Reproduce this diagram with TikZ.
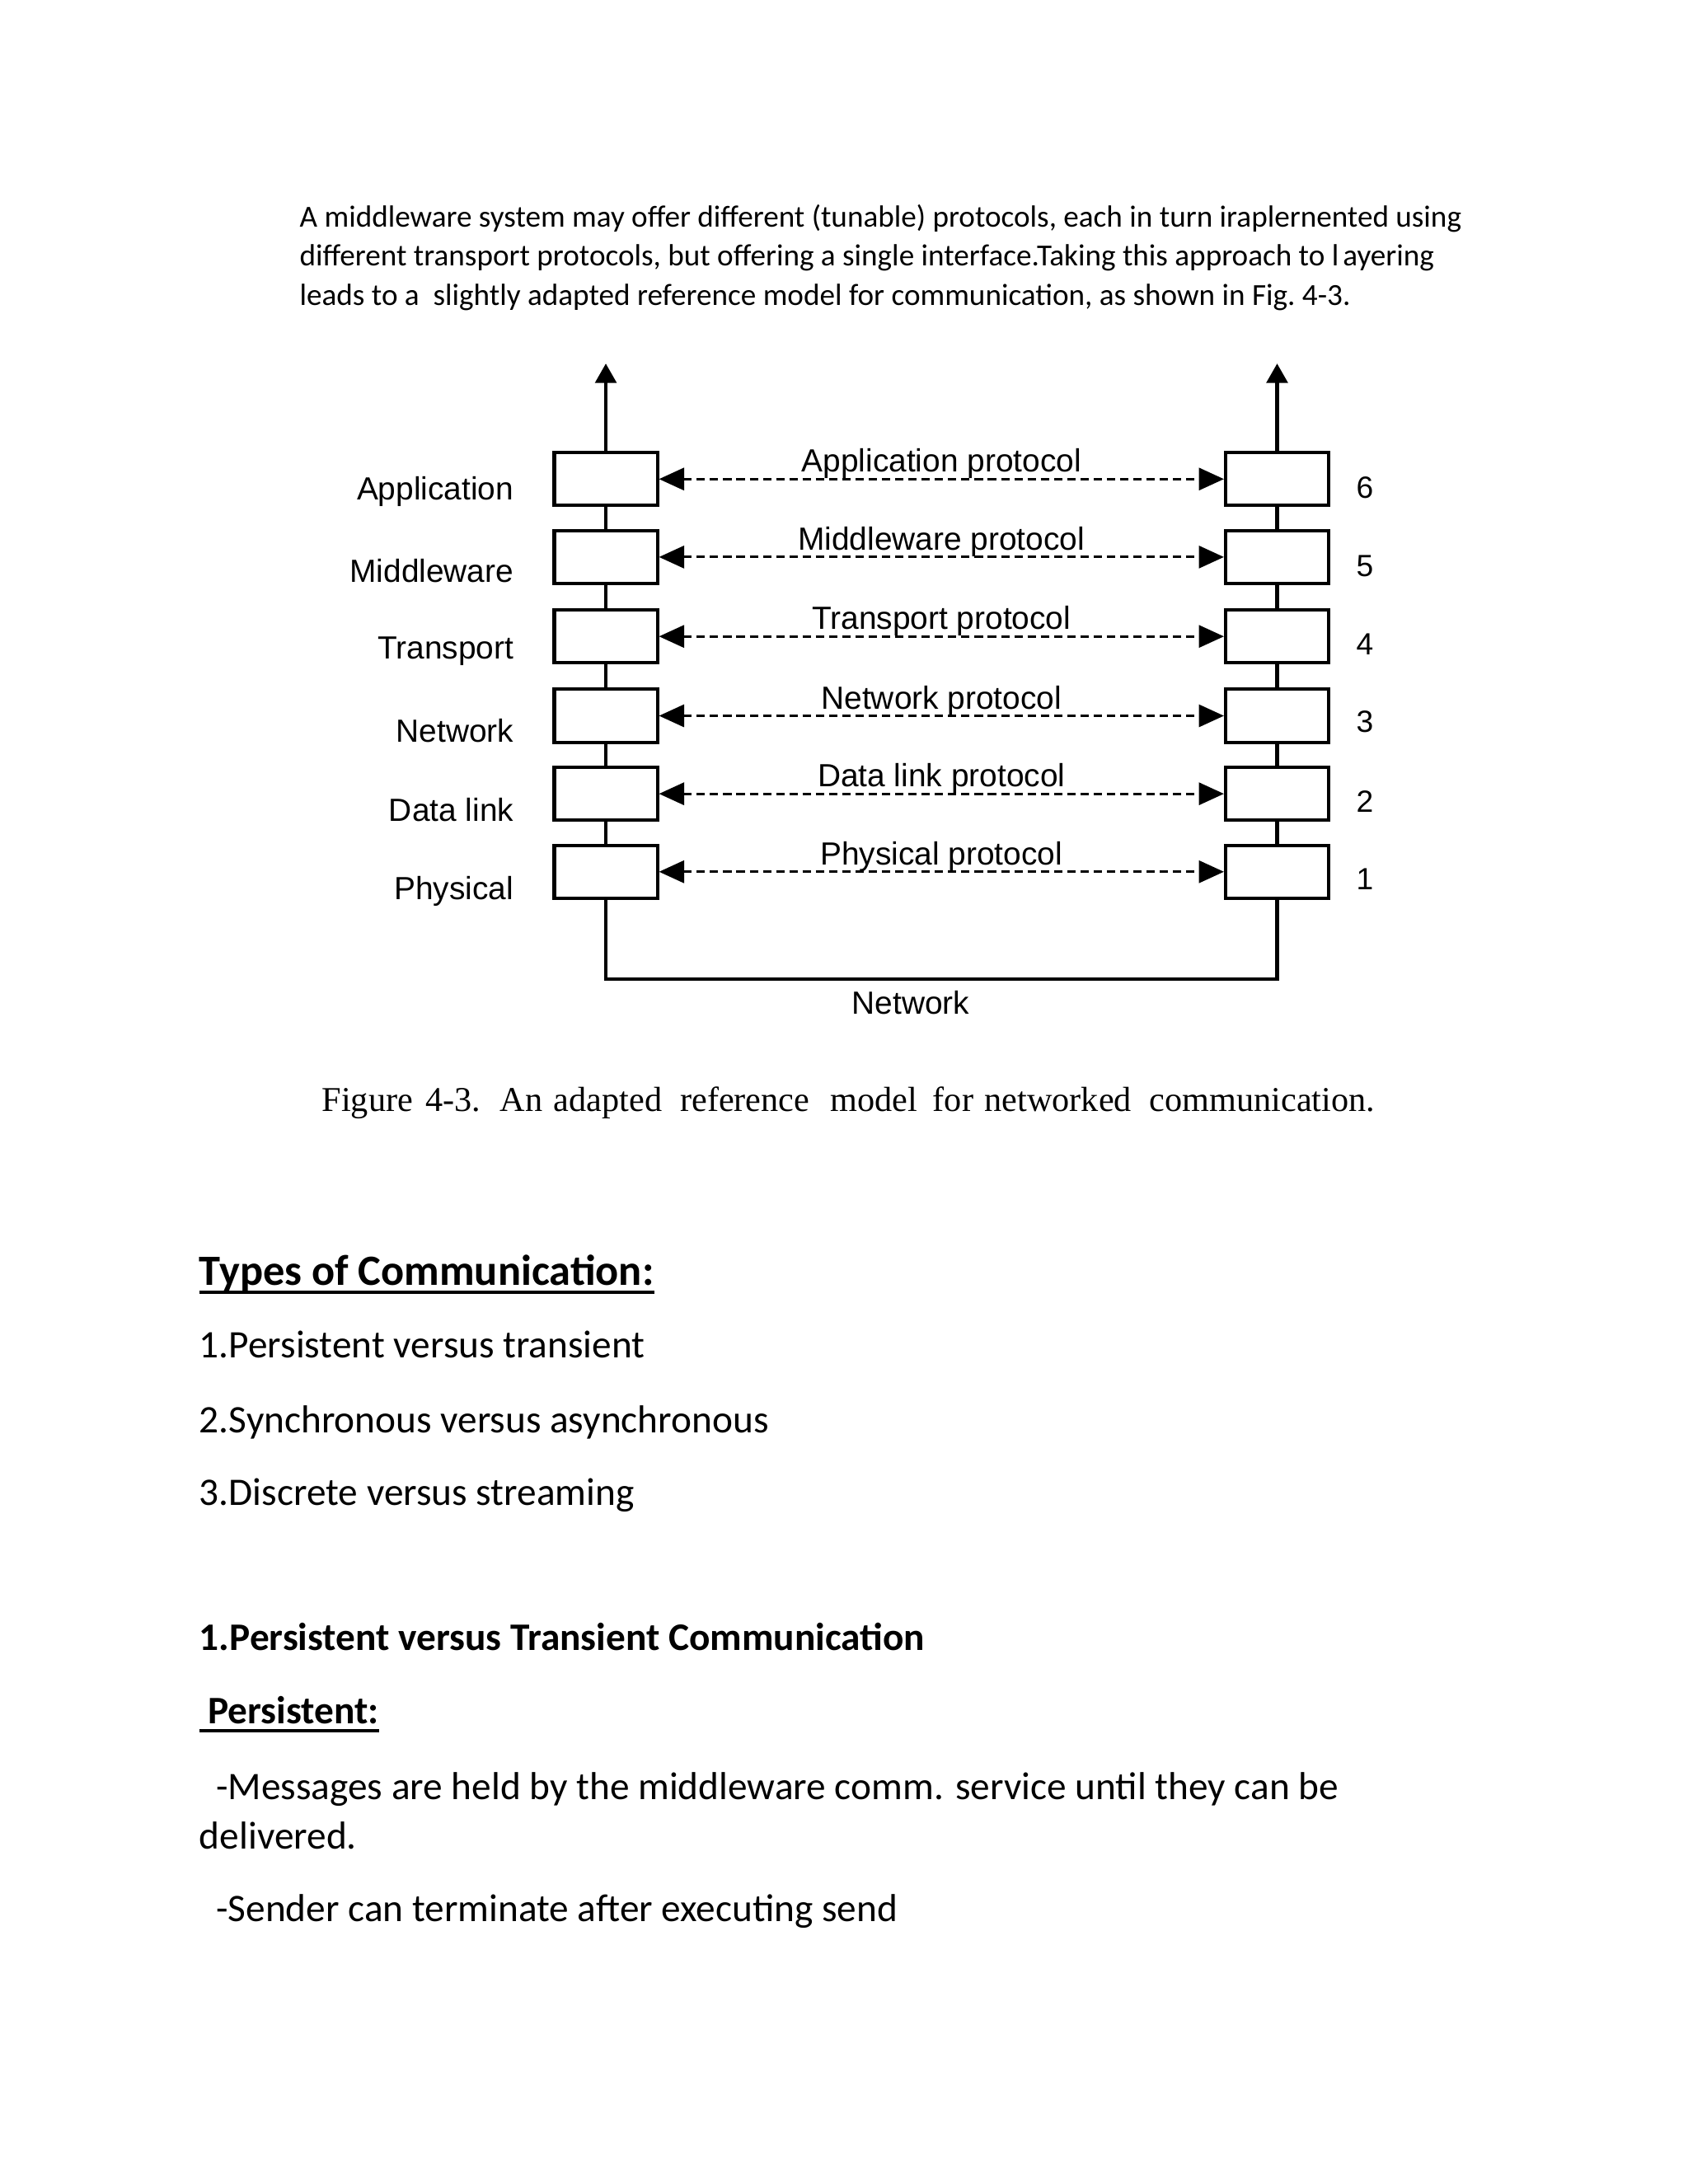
\documentclass[tikz,border=0pt]{standalone}
\usepackage{fontspec}
\setmainfont{Carlito}
\newfontfamily\diagfont{Liberation Sans}
\newfontfamily\figcapfont{Liberation Serif}
\usetikzlibrary{arrows.meta}

\newcommand{\paratext}{\fontsize{22}{28}\selectfont}
\newcommand{\bodytext}{\fontsize{28}{34}\selectfont}
\newcommand{\headtext}{\fontsize{31}{37}\selectfont}
\newcommand{\diagtext}{\diagfont\fontsize{23}{28}\selectfont}
\newcommand{\numtext}{\diagfont\fontsize{22}{26}\selectfont}
\newcommand{\figcaptext}{\figcapfont\fontsize{25}{30}\selectfont}

\tikzset{
  txt/.style={inner sep=0pt, anchor=base west},
  layerbox/.style={draw, line width=2.4pt, minimum width=74pt, minimum height=38pt, inner sep=0pt},
  stackline/.style={line width=2.4pt},
  uparrow/.style={line width=2.8pt, -{Triangle[length=14pt,width=15pt]}},
  protoarrow/.style={line width=1.8pt, dash pattern=on 6pt off 3.5pt,
    {Triangle[length=18pt,width=16pt]}-{Triangle[length=18pt,width=16pt]}},
  protolabel/.style={anchor=base, yshift=5pt, inner sep=0pt, font=\diagtext},
  laylabel/.style={anchor=base east, inner sep=0pt, font=\diagtext},
  numlabel/.style={anchor=base, inner sep=0pt, font=\numtext},
  netlabel/.style={anchor=base, inner sep=0pt, font=\diagtext},
  netline/.style={line width=2.6pt},
  uline/.style={line width=2.4pt}
}

\begin{document}
\begin{tikzpicture}[x=1pt,y=-1pt]
  \useasboundingbox (0,0) rectangle (1212,1568.3);
  \fill[white] (0,0) rectangle (1212,1568.3);

  % introduction
  \node[txt] (par1) at (215,163) {\paratext A middleware system may offer different (tunable) protocols, each in turn iraplernented using};
  \node[txt] (par2) at (215,191) {\paratext different transport protocols, but offering a single interface.Taking this approach to l\hspace{3pt}ayering};
  \node[txt] (par3) at (215,219) {\paratext leads to a\ \ slightly adapted reference model for communication, as shown in Fig.~4-3.};

  % left stack
  \node[layerbox] (L6) at (435,344) {};
  \node[layerbox] (L5) at (435,400) {};
  \node[layerbox] (L4) at (435,457) {};
  \node[layerbox] (L3) at (435,514) {};
  \node[layerbox] (L2) at (435,570) {};
  \node[layerbox] (L1) at (435,626) {};

  % right stack
  \node[layerbox] (R6) at (917,344) {};
  \node[layerbox] (R5) at (917,400) {};
  \node[layerbox] (R4) at (917,457) {};
  \node[layerbox] (R3) at (917,514) {};
  \node[layerbox] (R2) at (917,570) {};
  \node[layerbox] (R1) at (917,626) {};

  \coordinate (topL) at (435,261);
  \coordinate (topR) at (917,261);
  \draw[uparrow] (L6) -- (topL);
  \draw[uparrow] (R6) -- (topR);

  \draw[stackline] (L6) -- (L5);
  \draw[stackline] (L5) -- (L4);
  \draw[stackline] (L4) -- (L3);
  \draw[stackline] (L3) -- (L2);
  \draw[stackline] (L2) -- (L1);
  \draw[stackline] (R6) -- (R5);
  \draw[stackline] (R5) -- (R4);
  \draw[stackline] (R4) -- (R3);
  \draw[stackline] (R3) -- (R2);
  \draw[stackline] (R2) -- (R1);

  % peer protocols
  \draw[protoarrow] (L6) -- node[protolabel] (pApp) {Application protocol} (R6);
  \draw[protoarrow] (L5) -- node[protolabel] (pMid) {Middleware protocol} (R5);
  \draw[protoarrow] (L4) -- node[protolabel] (pTra) {Transport protocol} (R4);
  \draw[protoarrow] (L3) -- node[protolabel] (pNet) {Network protocol} (R3);
  \draw[protoarrow] (L2) -- node[protolabel] (pDat) {Data link protocol} (R2);
  \draw[protoarrow] (L1) -- node[protolabel] (pPhy) {Physical protocol} (R1);

  % layer names and numbers
  \node[laylabel] (nApp) at (369,359) {Application};
  \node[laylabel] (nMid) at (369,418) {Middleware};
  \node[laylabel] (nTra) at (369,473) {Transport};
  \node[laylabel] (nNet) at (369,533) {Network};
  \node[laylabel] (nDat) at (369,590) {Data link};
  \node[laylabel] (nPhy) at (369,646) {Physical};

  \node[numlabel] (k6) at (980,358) {6};
  \node[numlabel] (k5) at (980,414) {5};
  \node[numlabel] (k4) at (980,470) {4};
  \node[numlabel] (k3) at (980,526) {3};
  \node[numlabel] (k2) at (980,583) {2};
  \node[numlabel] (k1) at (980,639) {1};

  % network underneath
  \draw[netline] (L1.south) -- ++(0,57) -| (R1.south);
  \node[netlabel] (netname) at (654,728) {Network};

  \node[txt] (figcap) at (231,798) {\figcaptext Figure\hspace{9pt}4-3.\hspace{14pt}An\hspace{8pt}adapted\hspace{13pt}reference\hspace{15pt}model\hspace{11pt}for\hspace{8pt}networked\hspace{13pt}communication.};

  % types of communication
  \node[txt] (types) at (143,923) {\headtext\bfseries Types of Communication:};
  \draw[uline] ([yshift=-5pt]types.base west) -- ([yshift=-5pt]types.base east);
  \node[txt] (item1) at (143,975) {\bodytext 1.Persistent versus transient};
  \node[txt] (item2) at (143,1029) {\bodytext 2.Synchronous versus asynchronous};
  \node[txt] (item3) at (143,1081) {\bodytext 3.Discrete versus streaming};

  \node[txt] (sect1) at (143,1185) {\bodytext\bfseries 1.Persistent versus Transient Communication};
  \node[txt] (persist) at (149,1238) {\bodytext\bfseries Persistent:};
  \draw[uline] ([xshift=-6pt,yshift=-5pt]persist.base west) -- ([yshift=-5pt]persist.base east);
  \node[txt] (msg1) at (155,1292) {\bodytext -Messages are held by the middleware comm. service until they can be};
  \node[txt] (msg2) at (143,1328) {\bodytext delivered.};
  \node[txt] (msg3) at (155,1380) {\bodytext -Sender can terminate after executing send};
\end{tikzpicture}
\end{document}
